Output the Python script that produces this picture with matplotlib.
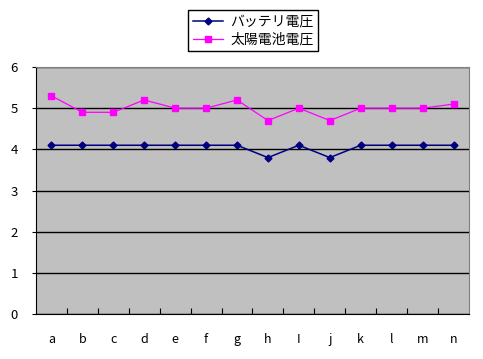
import matplotlib
matplotlib.use('Agg')
import matplotlib.pyplot as plt

plt.rcParams['font.family'] = ['Noto Sans CJK JP', 'DejaVu Sans']

categories = ['a', 'b', 'c', 'd', 'e', 'f', 'g', 'h', 'I', 'j', 'k', 'l', 'm', 'n']
battery = [4.1, 4.1, 4.1, 4.1, 4.1, 4.1, 4.1, 3.8, 4.1, 3.8, 4.1, 4.1, 4.1, 4.1]
solar = [5.3, 4.9, 4.9, 5.2, 5.0, 5.0, 5.2, 4.7, 5.0, 4.7, 5.0, 5.0, 5.0, 5.1]
yticks = [0, 1, 2, 3, 4, 5, 6]

fig = plt.figure(figsize=(4.83, 3.59), dpi=100)
ax = fig.add_axes([0.0745, 0.1253, 0.8965, 0.688])
ax.set_facecolor('#c0c0c0')

x = range(len(categories))
l1, = ax.plot(x, battery, color='#000080', marker='D', markersize=3.5, linewidth=1.1)
l2, = ax.plot(x, solar, color='#ff00ff', marker='s', markersize=5, linewidth=0.9)

ax.set_xlim(-0.5, len(categories) - 0.5)
ax.set_ylim(0, 6)
ax.set_yticks(yticks)
ax.yaxis.grid(True, color='black', linewidth=1)
ax.set_axisbelow(True)

# category ticks sit between the labels, pointing into the plot
ax.set_xticks([i + 0.5 for i in range(len(categories) - 1)])
ax.set_xticklabels([])
ax.set_xticks(list(x), minor=True)
ax.set_xticklabels(categories, minor=True)
ax.tick_params(axis='x', which='major', direction='in', length=4, color='black')
ax.tick_params(axis='x', which='minor', length=0, pad=14, labelsize=9)
ax.tick_params(axis='y', direction='out', length=3, pad=10, labelsize=9.5)

ax.spines['left'].set_color('black')
ax.spines['bottom'].set_color('black')
ax.spines['top'].set_color('#808080')
ax.spines['right'].set_color('#808080')

fig.legend([l1, l2], ['バッテリ電圧', '太陽電池電圧'], loc='upper center',
           bbox_to_anchor=(0.524, 0.972), borderaxespad=0, fancybox=False,
           edgecolor='black', framealpha=1, fontsize=10, handlelength=2.2,
           borderpad=0.35, labelspacing=0.25, handletextpad=0.5)

fig.savefig('out.png', dpi=100)
